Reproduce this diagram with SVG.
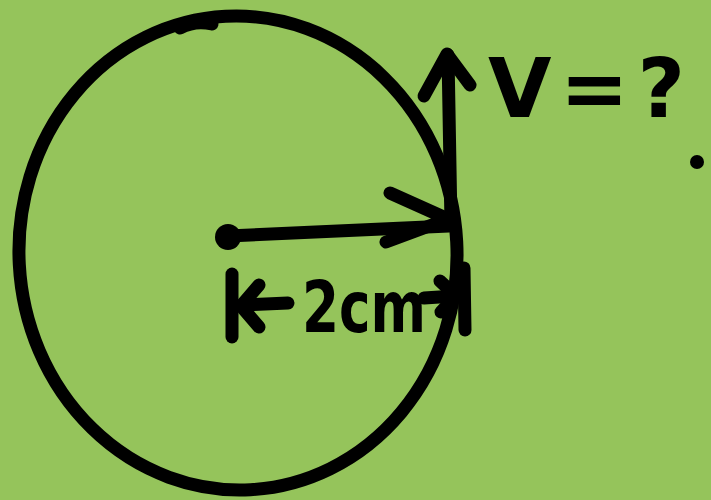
<svg xmlns="http://www.w3.org/2000/svg" width="711" height="500" viewBox="0 0 711 500">
<style>
.ink{fill:none;stroke:#000;stroke-width:13;stroke-linecap:round;stroke-linejoin:round}
.txt{font-family:"DejaVu Sans","Liberation Sans",sans-serif;font-weight:bold;fill:#000}
</style>
<rect width="711" height="500" fill="#95C45B"/>
<g id="circle">
<ellipse class="ink" cx="238" cy="253" rx="219" ry="237" transform="rotate(-3 238 253)"/>
<path class="ink" d="M180 28 Q195 20 212 24"/>
</g>
<g id="center">
<circle cx="228" cy="237" r="13" fill="#000"/>
</g>
<g id="connectors">
<path class="ink" d="M228 236 L449 226"/>
<path class="ink" d="M390 193 L448 219 L386 242"/>
<path class="ink" d="M451 224 L448 55"/>
<path class="ink" d="M424 96 L447 54 L470 85"/>
<path class="ink" d="M232 274 L232 337"/>
<path class="ink" d="M288 303 L242 305"/>
<path class="ink" d="M259 285 L241 306 L259 327"/>
<path class="ink" d="M424 298 L455 296"/>
<path class="ink" d="M440 281 L456 296 L441 312"/>
<path class="ink" d="M464 268 L465 330"/>
</g>
<g id="velocity-label">
<text class="txt" x="488" y="117" font-size="82" textLength="197" lengthAdjust="spacing">V=?</text>
<circle cx="697" cy="162" r="7" fill="#000"/>
</g>
<g id="radius-label">
<text class="txt" x="302" y="332" font-size="72" textLength="124" lengthAdjust="spacingAndGlyphs">2cm</text>
</g>
</svg>
